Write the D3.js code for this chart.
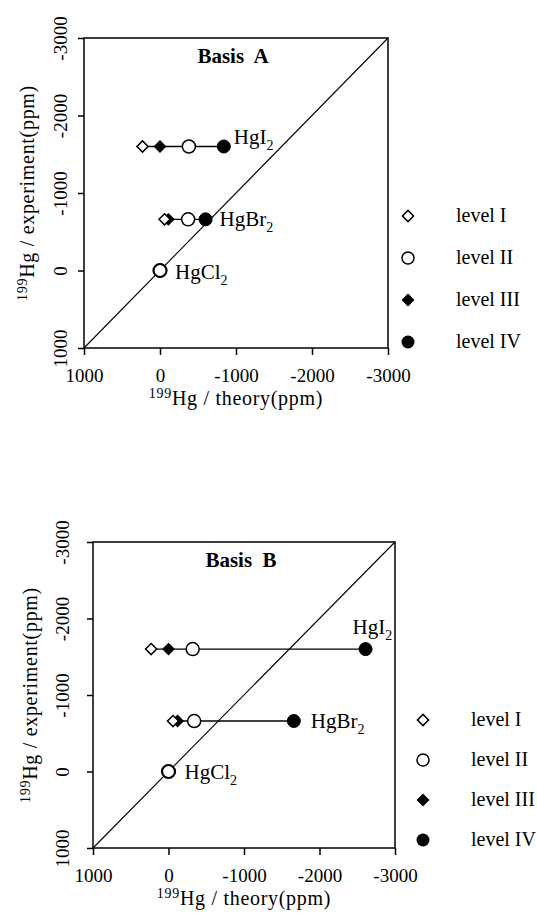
<!DOCTYPE html>
<html>
<head>
<meta charset="utf-8">
<script src="https://cdn.jsdelivr.net/npm/d3@7"></script>
<style>
	body { margin: 0; background: #fff; }
	svg { display: block; font-family: 'Liberation Serif', 'DejaVu Serif', serif; }
</style>
</head>
<body>
<svg id="vis" width="537" height="915"></svg>
<script>
// data (ppm)
var compounds = ['HgI2', 'HgBr2', 'HgCl2'];
var experiment = [-1600, -660, 0];
var levels = ['level I', 'level II', 'level III', 'level IV'];
var ticks = [1000, 0, -1000, -2000, -3000];

var basisA_I = [230, -60, 0];
var basisA_II = [-380, -370, 0];
var basisA_III = [0, -110, 0];
var basisA_IV = [-840, -600, 0];

var basisB_I = [230, -60, 0];
var basisB_II = [-320, -340, 0];
var basisB_III = [0, -120, 0];
var basisB_IV = [-2610, -1660, 0];

var svg = d3.select('#vis');
var fontSize = 19;

function addLabel(sel, base, sub) {
	sel.append('tspan').text(base);
	sel.append('tspan').text(sub).attr('font-size', 14).attr('dy', 6);
}

function addSuperLabel(sel, sup, rest) {
	sel.append('tspan').text(sup).attr('font-size', 14).attr('dy', -7);
	sel.append('tspan').text(rest).attr('dy', 7);
}

function diamond(sel, filled) {
	sel.append('path')
		.attr('d', d3.symbol().type(d3.symbolSquare).size(filled ? 58 : 62)())
		.attr('transform', 'rotate(45)')
		.attr('fill', filled ? '#000' : '#fff')
		.attr('stroke', '#000')
		.attr('stroke-width', 1.5);
}

function drawPanel(p) {
	var x = d3.scaleLinear().domain([1000, -3000]).range([p.left, p.right]);
	var y = d3.scaleLinear().domain([1000, -3000]).range([p.bottom, p.top]);
	var g = svg.append('g').classed('panel', true);

	// axes
	var xAxis = g.append('g')
		.attr('transform', 'translate(0,' + p.bottom + ')')
		.call(d3.axisBottom(x).tickValues(ticks).tickSize(7).tickSizeOuter(0).tickFormat(String));
	xAxis.select('.domain').remove();
	xAxis.selectAll('line').attr('stroke-width', 1.5);
	xAxis.selectAll('text')
		.attr('y', 34).attr('dy', 0)
		.attr('font-size', fontSize).attr('font-family', 'Liberation Serif');

	var yAxis = g.append('g')
		.attr('transform', 'translate(' + p.left + ',0)')
		.call(d3.axisLeft(y).tickValues(ticks).tickSize(6).tickSizeOuter(0).tickFormat(String));
	yAxis.select('.domain').remove();
	yAxis.selectAll('line').attr('stroke-width', 1.5);
	yAxis.selectAll('text')
		.attr('x', 0).attr('dy', 0)
		.attr('text-anchor', 'middle')
		.attr('transform', 'translate(' + p.yTickOff + ',0) rotate(-90)')
		.attr('font-size', fontSize).attr('font-family', 'Liberation Serif');

	// frame
	g.append('rect')
		.attr('x', p.left).attr('y', p.top)
		.attr('width', p.right - p.left).attr('height', p.bottom - p.top)
		.attr('fill', 'none').attr('stroke', '#000').attr('stroke-width', 1.5);

	// diagonal
	g.append('line')
		.attr('x1', x(1000)).attr('y1', y(1000))
		.attr('x2', x(-3000)).attr('y2', y(-3000))
		.attr('stroke', '#000').attr('stroke-width', 1.1);

	// title
	g.append('text')
		.attr('x', (p.left + p.right) / 2 - 3).attr('y', p.top + 25)
		.attr('text-anchor', 'middle').attr('font-weight', 'bold')
		.attr('font-size', 21)
		.attr('xml:space', 'preserve')
		.text(p.title);

	// axis titles
	var xt = g.append('text')
		.attr('x', (p.left + p.right) / 2).attr('y', p.bottom + 57)
		.attr('text-anchor', 'middle').attr('font-size', 20)
		.attr('letter-spacing', 0.7);
	addSuperLabel(xt, '199', 'Hg / theory(ppm)');

	var yt = g.append('text')
		.attr('transform', 'translate(' + (p.left + p.yTitleOff) + ',' + ((p.top + p.bottom) / 2) + ') rotate(-90)')
		.attr('text-anchor', 'middle').attr('font-size', 20)
		.attr('letter-spacing', 0.7);
	addSuperLabel(yt, '199', 'Hg / experiment(ppm)');

	// points
	var rows = compounds.map(function(c, i) {
		return { name: c, exp: experiment[i], v: [p.I[i], p.II[i], p.III[i], p.IV[i]] };
	});

	rows.forEach(function(r) {
		var ext = d3.extent(r.v);
		g.append('line')
			.attr('x1', x(ext[0])).attr('x2', x(ext[1]))
			.attr('y1', y(r.exp)).attr('y2', y(r.exp))
			.attr('stroke', '#000').attr('stroke-width', 1.3);

		var cy = y(r.exp);
		// IV, III, I, II draw order
		g.append('circle').attr('cx', x(r.v[3])).attr('cy', cy).attr('r', 6.5)
			.attr('fill', '#000').attr('stroke', '#000');
		diamond(g.append('g').attr('transform', 'translate(' + x(r.v[2]) + ',' + cy + ')'), true);
		diamond(g.append('g').attr('transform', 'translate(' + x(r.v[0]) + ',' + cy + ')'), false);
		g.append('circle').attr('cx', x(r.v[1])).attr('cy', cy).attr('r', 6.5)
			.attr('fill', '#fff').attr('stroke', '#000').attr('stroke-width', r.v[1] == 0 ? 2.2 : 1.5);
	});

	// compound labels
	rows.forEach(function(r, i) {
		var off = p.labelOff[i];
		var t = g.append('text')
			.attr('x', x(off.at == 'IV' ? r.v[3] : r.v[1]) + off.dx)
			.attr('y', y(r.exp) + off.dy)
			.attr('font-size', 21);
		addLabel(t, r.name.slice(0, -1), r.name.slice(-1));
	});

	// legend
	var legend = g.append('g').classed('vis__legend', true);
	levels.forEach(function(l, i) {
		var ly = p.legendY + i * p.legendStep;
		var sg = legend.append('g').attr('transform', 'translate(' + p.legendX + ',' + ly + ')');
		if (i == 0) diamond(sg, false);
		if (i == 2) diamond(sg, true);
		if (i == 1) sg.append('circle').attr('r', 6).attr('fill', '#fff').attr('stroke', '#000').attr('stroke-width', 1.5);
		if (i == 3) sg.append('circle').attr('r', 6.5).attr('fill', '#000');
		legend.append('text')
			.attr('x', p.legendX + 48).attr('y', ly + 6)
			.attr('font-size', 20)
			.text(l);
	});
}

drawPanel({
	title: 'Basis  A',
	left: 84, right: 388, top: 38, bottom: 348,
	yTickOff: -17, yTitleOff: -50,
	I: basisA_I, II: basisA_II, III: basisA_III, IV: basisA_IV,
	labelOff: [{ at: 'IV', dx: 10, dy: -3 }, { at: 'IV', dx: 14, dy: 7 }, { at: 'II', dx: 15, dy: 8 }],
	legendX: 408, legendY: 216, legendStep: 42
});

drawPanel({
	title: 'Basis  B',
	left: 93, right: 395, top: 542, bottom: 848,
	yTickOff: -24, yTitleOff: -56,
	I: basisB_I, II: basisB_II, III: basisB_III, IV: basisB_IV,
	labelOff: [{ at: 'IV', dx: -13, dy: -15 }, { at: 'IV', dx: 17, dy: 7 }, { at: 'II', dx: 16, dy: 7 }],
	legendX: 423, legendY: 720, legendStep: 40
});
</script>
</body>
</html>
